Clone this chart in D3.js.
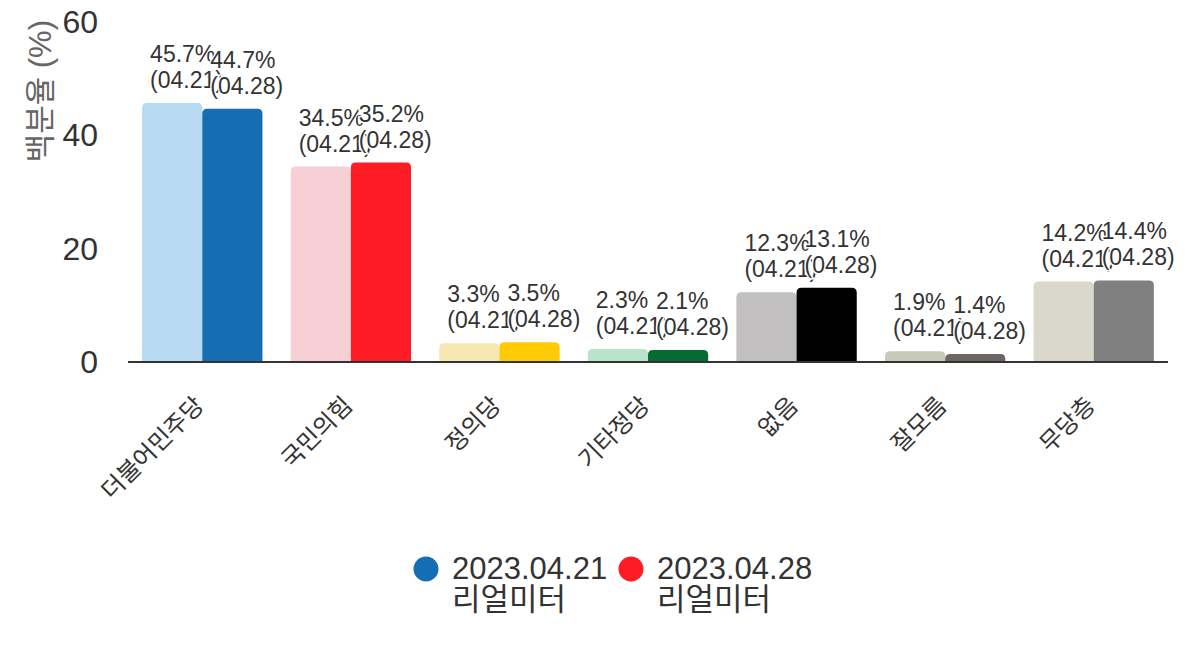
<!DOCTYPE html>
<html><head><meta charset="utf-8">
<script src="https://cdn.jsdelivr.net/npm/d3@7"></script>
<style>body{margin:0;background:#fff}svg{display:block}</style>
</head><body>
<svg id="c" width="1190" height="660"></svg>
<script>
const categories = ["더불어민주당","국민의힘","정의당","기타정당","없음","잘모름","무당층"];
const series1Name = ["2023.04.21","리얼미터"];
const series2Name = ["2023.04.28","리얼미터"];
const series1 = [45.7,34.5,3.3,2.3,12.3,1.9,14.2];
const series2 = [44.7,35.2,3.5,2.1,13.1,1.4,14.4];
const series1Tag = "(04.21)";
const series2Tag = "(04.28)";
const colors1 = ["#b8d9f2","#f7d0d6","#f6e8b0","#b8e4cc","#c2c0c1","#c8c8b8","#dad8cc"];
const colors2 = ["#156db3","#ff1c24","#ffcb05","#056b33","#000000","#6d6563","#808080"];
const yTicks = [0,20,40,60];
const yTitle = "백분율 (%)";

const FONT = "'Liberation Sans', Arial, 'Noto Sans CJK KR', sans-serif";
const svg = d3.select("#c");
const L = 128, R = 1168, T = 22, B = 362;
const x = d3.scaleBand().domain(categories).range([L,R]).paddingInner(0.19).paddingOuter(0.095);
const xs = d3.scaleBand().domain([0,1]).range([0,x.bandwidth()]);
const y = d3.scaleLinear().domain([0,60]).range([B,T]);

function topRound(x0,y0,w,h,r){
  r=Math.min(r,h,w/2);
  return `M${x0},${y0+h}V${y0+r}Q${x0},${y0} ${x0+r},${y0}H${x0+w-r}Q${x0+w},${y0} ${x0+w},${y0+r}V${y0+h}Z`;
}

// y tick labels
svg.append("g").selectAll("text").data(yTicks).join("text")
  .attr("x",98).attr("y",d=>y(d)+11).attr("text-anchor","end")
  .attr("font-family",FONT).attr("font-size",32).attr("fill","#333").text(d=>d);

// y title
svg.append("text").attr("transform",`translate(51,${T-2}) rotate(-90)`)
  .attr("text-anchor","end").attr("font-family",FONT).attr("font-size",31).attr("fill","#666").text(yTitle);

const data = categories.map((c,i)=>[
  {c,i,s:0,v:series1[i],col:colors1[i],tag:series1Tag},
  {c,i,s:1,v:series2[i],col:colors2[i],tag:series2Tag}]).flat();

svg.append("g").selectAll("path").data(data).join("path")
  .attr("d",d=>topRound(x(d.c)+xs(d.s),y(d.v),xs.bandwidth(),B-y(d.v),5))
  .attr("fill",d=>d.col);

// axis line
svg.append("line").attr("x1",L).attr("x2",R).attr("y1",B).attr("y2",B).attr("stroke","#333").attr("stroke-width",2);

// data labels (left-aligned just inside each bar's left edge)
const lx = d=>x(d.c)+xs(d.s)+8;
const lab = svg.append("g").selectAll("text").data(data).join("text")
  .attr("x",lx)
  .attr("y",d=>y(d.v)-41)
  .attr("text-anchor","start").attr("font-family",FONT).attr("font-size",23).attr("fill","#333")
  .attr("stroke","#fff").attr("stroke-width",3).attr("paint-order","stroke");
lab.append("tspan").text(d=>d.v.toFixed(1)+"%");
lab.append("tspan").attr("x",lx).attr("dy",26).text(d=>d.tag);

// x labels
svg.append("g").selectAll("text").data(categories).join("text")
  .attr("transform",d=>`translate(${x(d)+x.bandwidth()/2+3},${B+45}) rotate(-45)`)
  .attr("text-anchor","end").attr("font-family",FONT).attr("font-size",24).attr("fill","#333").text(d=>d);

// legend
const leg = [{n:series1Name,c:colors2[0],x:426},{n:series2Name,c:colors2[1],x:631}];
const lg = svg.append("g").selectAll("g").data(leg).join("g");
lg.append("circle").attr("cx",d=>d.x).attr("cy",569).attr("r",12.5).attr("fill",d=>d.c);
const lt = lg.append("text").attr("font-family",FONT).attr("font-size",31).attr("fill","#333");
lt.append("tspan").attr("x",d=>d.x+26).attr("y",579).text(d=>d.n[0]);
lt.append("tspan").attr("x",d=>d.x+26).attr("y",610).text(d=>d.n[1]);
</script>
</body></html>
